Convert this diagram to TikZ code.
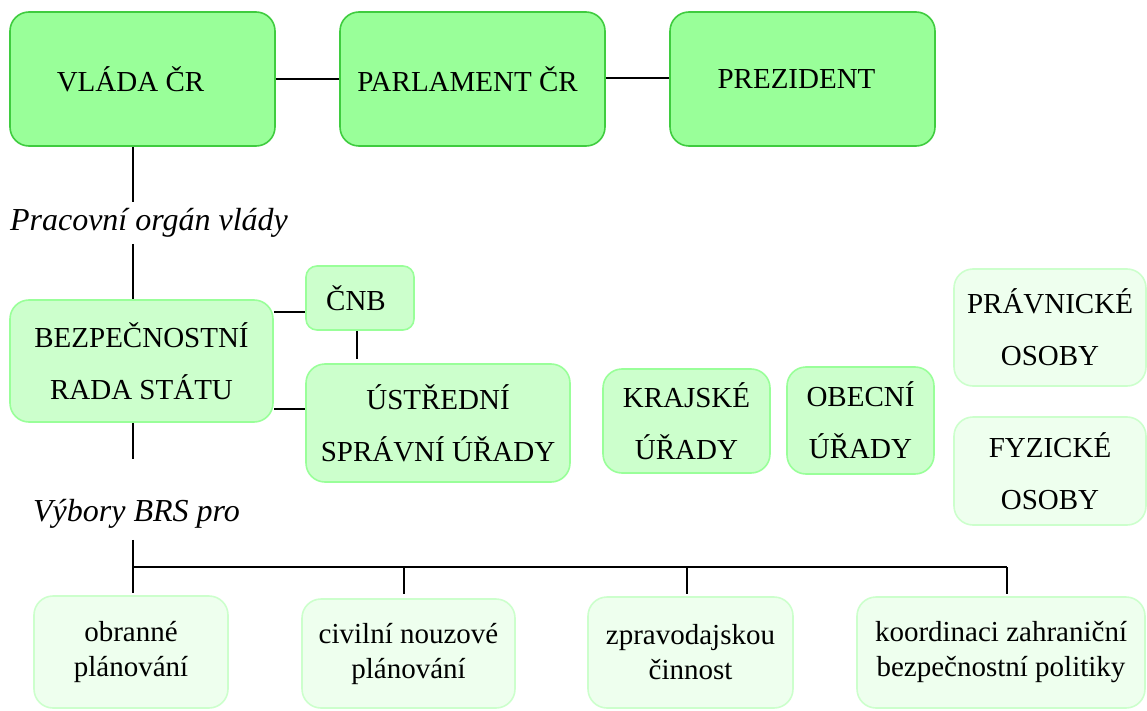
\documentclass[tikz,border=0pt]{standalone}
\usepackage{fontspec}
\setmainfont{Liberation Serif}
\definecolor{topfill}{HTML}{99FF99}
\definecolor{topdraw}{HTML}{3FCC3F}
\definecolor{midfill}{HTML}{CCFFCC}
\definecolor{middraw}{HTML}{99FF99}
\definecolor{lowfill}{HTML}{EEFFEE}
\definecolor{lowdraw}{HTML}{CCFFCC}
\begin{document}
\begin{tikzpicture}[x=1pt,y=-1pt,
  box/.style={rounded corners=19pt, line width=1.6pt, inner sep=0pt, align=center, font=\fontsize{29}{52}\selectfont},
  topbox/.style={box, fill=topfill, draw=topdraw},
  midbox/.style={box, fill=midfill, draw=middraw},
  lowbox/.style={box, fill=lowfill, draw=lowdraw},
  smallfont/.style={font=\fontsize{29}{35}\selectfont},
  lab/.style={inner sep=0pt, font=\fontsize{32}{36}\selectfont\itshape},
  link/.style={line width=1.6pt, black}]
\useasboundingbox (0,0) rectangle (1147,711);
% top row
\node[topbox, minimum width=265pt, minimum height=134pt] (vlada) at (142.5,79) {VLÁDA ČR\hspace{24pt}};
\node[topbox, minimum width=265pt, minimum height=134pt] (parl) at (472.5,79) {PARLAMENT ČR\hspace{10pt}};
\node[topbox, minimum width=265pt, minimum height=134pt] (prez) at (802.5,79) {PREZIDENT\hspace{12pt}};
% labels
\node[lab] (pracovni) at (149,223) {Pracovní orgán vlády};
\node[lab] (vybory) at (136.5,514) {Výbory BRS pro};
% middle
\node[midbox, minimum width=263pt, minimum height=122pt] (brs) at (141.5,361) {BEZPEČNOSTNÍ\\RADA STÁTU};
\node[midbox, rounded corners=11pt, minimum width=108pt, minimum height=64pt] (cnb) at (360,298) {ČNB\hspace{8pt}};
\node[midbox, minimum width=264pt, minimum height=118pt] (ustr) at (438,423) {ÚSTŘEDNÍ\\SPRÁVNÍ ÚŘADY};
\node[midbox, minimum width=167pt, minimum height=104pt] (kraj) at (686.5,421) {KRAJSKÉ\\ÚŘADY};
\node[midbox, minimum width=147pt, minimum height=107pt] (obec) at (860.5,420.5) {OBECNÍ\\ÚŘADY};
\node[lowbox, minimum width=192pt, minimum height=117pt] (prav) at (1050,327.5) {PRÁVNICKÉ\\OSOBY};
\node[lowbox, minimum width=192pt, minimum height=108pt] (fyz) at (1050,471) {FYZICKÉ\\OSOBY};
% bottom
\node[lowbox, smallfont, minimum width=194pt, minimum height=112pt] (obr) at (131,652) {obranné\\plánování};
\node[lowbox, smallfont, minimum width=213pt, minimum height=109pt] (civ) at (408.5,653.5) {civilní nouzové\\plánování};
\node[lowbox, smallfont, minimum width=205pt, minimum height=111pt] (zprav) at (690.5,652.5) {zpravodajskou\\činnost};
\node[lowbox, smallfont, minimum width=288pt, minimum height=111pt] (koord) at (1001,652.5) {koordinaci zahraniční\\bezpečnostní politiky};
% coordinates
\coordinate (spine) at (133,0);
\coordinate (bus) at (133,567);
\coordinate (d2) at (404,567);
\coordinate (d3) at (687,567);
\coordinate (d4) at (1007,567);
% connectors
\draw[link] (vlada.east) -- (parl.west);
\draw[link] ([yshift=1pt]parl.east) -- ([yshift=1pt]prez.west);
\draw[link] (spine |- vlada.south) -- ([yshift=6pt]spine |- pracovni.north);
\draw[link] ([yshift=-6pt]spine |- pracovni.south) -- (spine |- brs.north);
\draw[link] ([yshift=-14pt]cnb.west) -- ([yshift=-14pt]cnb.west -| brs.east);
\draw[link] ([yshift=14pt]ustr.west) -- ([yshift=14pt]ustr.west -| brs.east);
\draw[link] ([xshift=-3pt]cnb.south) -- ([xshift=-3pt,yshift=4pt]cnb.south |- ustr.north);
\draw[link] (spine |- brs.south) -- ([yshift=40pt]spine |- vybory.north);
\draw[link] ([yshift=-11pt]spine |- vybory.south) -- (bus) -- ([yshift=2pt]bus |- obr.north);
\draw[link] (bus) -- (d4);
\draw[link] (d2) -- ([yshift=4pt]d2 |- civ.north);
\draw[link] (d3) -- ([yshift=2pt]d3 |- zprav.north);
\draw[link] (d4) -- ([yshift=2pt]d4 |- koord.north);
\end{tikzpicture}
\end{document}
